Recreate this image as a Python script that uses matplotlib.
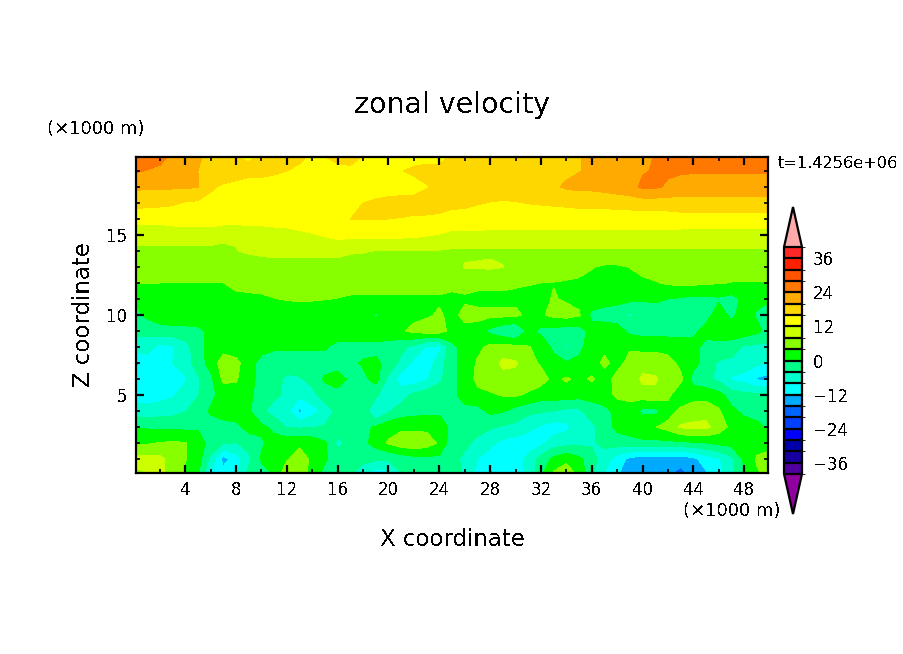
import numpy as np
import matplotlib
matplotlib.use("Agg")
import matplotlib.pyplot as plt
from matplotlib.colors import ListedColormap, BoundaryNorm
from matplotlib.ticker import MultipleLocator

plt.rcParams["text.antialiased"] = False
plt.rcParams["font.family"] = "DejaVu Sans"

# coordinates in km
x_km = list(range(0, 51))
z_km = [0.125, 1, 2, 3, 4, 5, 6, 7, 8, 9, 10, 11, 12, 13, 14, 15, 16, 17, 18, 19, 19.875]

# zonal velocity, one row per height (bottom row first), x = 0..24 then x = 25..50
u_z00 = [7.5, 7.9, 9, 6, 3.5, 0.5, -8, -10.5, -9, -3, -1.5, 0.5, 7, 7, 2, -1, -2, -3, -7, -10, -9, -4, -2.5, -2, -2,
         -2.5, -4.5, -9, -13, -10, -9.5, -7, -1, 4.5, 6, 3, -3, -8, -11.5, -14.5, -15.5, -15.5, -15.5, -17, -15, -12.5, -9.5, -5, -0.5, 3.5, 5.5]
u_z01 = [9, 9.5, 9, 6.5, 4.2, 2, -5, -13.5, -10, -5, 0.5, 2, 3.5, 6.5, 3, 0.5, -2, -2, -2.5, -3, -3.5, -2.5, -1.5, -1, -1,
         -2.5, -5, -8, -10, -10, -9.5, -7, -2.5, 1, 3, 1, -2.5, -6, -10, -13, -14.5, -14.5, -14.5, -14.5, -13, -10, -8.5, -5, 1, 4.5, 5]
u_z02 = [3.5, 3.5, 4.2, 4.5, 4.2, 2, -1.5, -3.5, -4.2, -2.5, -0.5, 1.5, 2.5, 3, 2.5, 0.5, -5, -3, -1, 1.5, 4.5, 6.5, 7, 6, 3.5,
         -2.5, -3, -5, -7, -9, -10, -10, -9, -6, -5.5, -5, -4.5, -3, -2, -1.5, -1, -1, -1, -0.8, -0.5, 0, 1, 1.5, 2, 2.5, 3]
u_z03 = [-0.3, -0.5, -0.6, -0.8, -1, -0.5, -1.5, -1.5, -1, 1.5, 0.8, -1, -4.2, -4.5, -4.2, -3.5, -2, -1.5, -1, 0.5, 2.5, 3, 3, 3, 3,
         -1.5, -2, -2.5, -3.5, -4.5, -5, -7, -8.5, -10, -9, -6, -5, -2, 1, 2, 3, 3.8, 5.5, 8.5, 9, 9, 6, 3, 2, 1, -1]
u_z04 = [-6, -6.5, -6, -5.5, -4.2, -2, 0.5, 2, 2, 0.5, -3, -6, -7, -13, -9.5, -7, -2.5, -1.5, -1, -8.5, -4.5, -2, -1.5, -1, -1,
         -1, -1, -1.5, 1, 0.5, -1.5, -3, -3.5, -4, -5, -4.8, -2, -1, 1, 2, -1, -1, 2, 5, 6, 6.5, 4.5, 1, -1, -1.5, -1.5]
u_z05 = [-10, -10, -9.5, -8.5, -6, -4.2, -1, 1.5, 2, 0.5, -1, -3, -5, -7, -5.5, -1.5, -1.5, -1.5, -1.5, -3, -8.5, -6, -3, -2, -1.5,
         -1, 1.5, 3, 3.5, 4.3, 4.5, 3.5, 2, 2, 2, 1.5, 1.5, 2, 5, 5.5, 6, 7, 5, 1, 2.5, 2.5, 1.5, -2, -3, -3, -3]
u_z06 = [-11, -10.5, -10, -9.5, -8.5, -4.5, -1, 5, 4.5, 1, -1, -2, -5, -4.5, -2.5, 0.5, 2, -1, -1, 1.5, -5, -10, -10.5, -8.5, -5,
         -1, 1.5, 5, 6, 6.5, 6.5, 6, 5.5, 3, 4.5, 3, 4.5, 2, 5.5, 5, 9, 8.5, 6, 5, -1.5, -3, -5, -8.5, -9.5, -12.5, -13.5]
u_z07 = [-13, -10.5, -9.5, -8, -6, -2, 1.5, 6, 5, 2, -1.5, -1.5, -1.5, -1.5, -1.5, -1.5, -2, -1, 0.5, 1, -1.5, -5, -9, -10, -6,
         -1, 1.5, 4.5, 5.5, 9, 8.5, 5.5, 3.5, 1.5, 0.5, 1, 2, 5, 2.5, 5.5, 6, 6, 5.5, 3, 1.5, -2, -4.5, -5, -6, -7, -8.5]
u_z08 = [-6, -6, -9.5, -8.5, -5.5, -2, 2, 2.5, 2, 1.5, 1.5, 0.5, 0.5, 0.5, 0.5, 0.5, -1.5, -1.5, -1.5, -1.5, -2, -3, -5, -8.5, -9,
         -1, 1.5, 3, 5, 5.5, 5, 4.2, 3, -1, -4.5, -1, 2, 3, 3, 3.5, 3, 3, 2.5, 3, 1.5, -1.5, -1.5, -2, -4.5, -5, -5]
u_z09 = [-3, -3, -1.5, -1.5, -1.5, -1, 1, 2, 2.5, 2.5, 2.5, 1.5, 1.5, 1.5, 1.5, 1.5, 3, 3, 3, 3, 3, 3.5, 5, 6, 6,
         2.5, 3, 2.5, -1, -3, -4.5, 1, -1, -1.5, -2, -2, 1.5, 2.5, 2, -1, -1.5, -1.5, -1.5, -2, -1, 1.5, 2.5, 2.5, 2.5, 1, -1.5]
u_z10 = [-1.5, 1, 2, 3, 3, 3, 2, 2, 2, 2, 2, 2, 2, 2, 2, 2, 2, 2, 2, -0.5, 2, 3, 3, 3.5, 4.5,
         3, 5, 5, 5, 5, 5, 3, 3.5, 5, 5.5, 4.5, -1, -2, -2.5, -4.5, -3, -1.5, -1.5, -1.5, -1.5, -1.5, 2, -1, 2, -0.5, -1.5]
u_z11 = [0.5, 2, 3, 3, 3, 3, 3, 3, 3, 3, 3.3, 3.9, 4.2, 4.4, 4.3, 4.1, 3.9, 3.5, 3.5, 3.5, 3.5, 3.5, 3.5, 3.5, 3.5,
         3, 3.5, 3, 3, 3, 3, 3, 3, 4.3, 3.5, 3, 2.5, 2, 1.5, 1, 0.5, 0.5, 0, -0.5, -1, -1, -0.5, -1.5, 1, 1, 0.5]
u_z12 = [4.2, 4.1, 4, 4, 3.9, 3.9, 3.9, 4, 5, 5.5, 5.5, 5.5, 5.5, 5.5, 5.5, 5.5, 5.5, 5.5, 5.5, 5.5, 5.5, 5.5, 5.5, 5.5, 5.5,
         5.2, 5.2, 5, 5, 5, 4.5, 4.2, 4, 3.9, 3.7, 3.5, 3, 3, 2.8, 3, 3, 3.8, 4.5, 4.8, 4.8, 4.5, 4.2, 3.9, 3.9, 3.9, 3.9]
u_z13 = [6, 6, 6, 6, 6, 6, 6, 6, 6, 6, 6, 6, 6, 6, 6, 6, 6, 6, 6, 6, 6, 6, 6, 6, 6,
         6.5, 8.2, 8.3, 8.5, 8.1, 6, 6, 6, 6, 5.5, 5, 4.2, 3.5, 3.5, 4.1, 5.5, 5.5, 5.5, 5, 4.6, 4.3, 4.7, 5.5, 5.5, 5.5, 5.5]
u_z14 = [7, 7, 7, 7, 7, 7, 7, 7.5, 7.9, 8.5, 9, 9.5, 9.5, 9.5, 9.5, 9.5, 9.5, 8.5, 8.3, 7.9, 7.8, 7.8, 7.8, 7.8, 7.8,
         7.5, 7.5, 7.5, 7.5, 7.5, 7.5, 7.5, 7.5, 7.5, 7.5, 7.5, 7.5, 7.5, 7.5, 7.5, 7.5, 7.5, 7.5, 7.5, 7.5, 7.5, 7.5, 7.5, 7.5, 7.5, 7.5]
u_z15 = [10, 10, 10, 10, 10, 10, 10, 8.5, 8.3, 8.3, 8.5, 9.5, 10, 11, 11.7, 12.3, 13, 13, 13, 13, 13, 13, 12.8, 12.3, 11.8,
         11, 11, 11, 11, 11, 11, 11, 11, 11, 11, 11, 11, 11, 11, 11, 11, 11, 11, 10.5, 10.5, 10.5, 10.5, 10.5, 10.5, 10.5, 10.5]
u_z16 = [13, 13, 13, 13.5, 14, 14, 14, 14, 14, 14.5, 14.5, 14.5, 14.5, 14.5, 14.5, 15, 15.9, 16, 16.1, 16.1, 16, 15.9, 15.7, 15.5, 15.2,
         14.5, 14.5, 14.5, 14, 14, 14, 14, 14, 14, 14, 14, 14, 14, 14, 14, 14, 14, 14, 14.5, 14.5, 14.5, 14.5, 14.5, 14.5, 14.5, 14.5]
u_z17 = [17.5, 17.3, 17, 16.5, 15.7, 15.3, 15, 14.5, 14.5, 14.5, 14.5, 14.5, 14.5, 14.5, 14.5, 14.5, 14.5, 15.5, 16, 16.5, 17, 17, 17, 17.5, 17.5,
         17, 16.8, 16.2, 15.9, 15.7, 15.8, 16.1, 16.3, 16.5, 16.7, 17, 17, 17, 17.5, 17.5, 18, 18, 18, 18, 18, 18, 18, 18, 18, 18, 18]
u_z18 = [20.6, 20.6, 20.5, 20.5, 20.4, 20.2, 16.5, 15.5, 15, 14.5, 14.5, 14.5, 14.5, 14.5, 14.5, 14.5, 14.5, 14.5, 14.5, 14.5, 14.5, 14.8, 15, 15.8, 16.5,
         17, 17, 17.2, 17.4, 17.6, 17.8, 18, 18.5, 19.5, 20.5, 21, 21, 21.5, 22, 23, 24.5, 24.5, 23.5, 23, 23, 23, 23, 23, 23, 23, 23]
u_z19 = [24.5, 23.8, 23, 22, 21, 20, 19, 18, 17.5, 17, 17, 16.5, 16, 15.5, 15, 15, 15, 15, 15, 15, 15.2, 15.9, 16.5, 17, 17,
         17, 17, 17.5, 17.5, 18, 18, 18.5, 18.5, 19, 19.3, 19.9, 20.5, 21, 22, 23, 23.8, 24.2, 24.5, 24.3, 24.2, 24.2, 24.2, 24.2, 24.2, 24.2, 24.2]
u_z20 = [26, 26, 25.5, 23, 22, 20.5, 19, 17, 16, 15.5, 16.5, 17, 17, 16.5, 15.5, 15.9, 17, 17.5, 15.8, 15.5, 15, 15, 15, 15, 15,
         16.5, 17, 17.5, 18, 18, 18.5, 18.5, 19, 19, 19.5, 19.9, 20.5, 21, 21.5, 22, 23, 24.2, 26, 26, 26, 26, 26, 26, 26, 26, 26]

u_rows = [u_z00, u_z01, u_z02, u_z03, u_z04, u_z05, u_z06, u_z07, u_z08, u_z09, u_z10,
          u_z11, u_z12, u_z13, u_z14, u_z15, u_z16, u_z17, u_z18, u_z19, u_z20]

levels = list(range(-40, 41, 4))
band_colors = ["#5000a0", "#1800a0", "#0000aa", "#0000ff", "#0040ff", "#0064ff", "#00aaff",
               "#00ffff", "#00ffcc", "#00ff88", "#00ff00", "#88ff00", "#ccff00", "#ffff00",
               "#ffd700", "#ffaa00", "#ff7800", "#ff5500", "#ff2000", "#ff2828"]
under_color = "#9000a0"
over_color = "#ffaaaa"
cbar_ticks = [-36, -24, -12, 0, 12, 24, 36]

W, H = 904, 654


def px_axes(left, top, right, bottom):
    return [left / W, 1 - bottom / H, (right - left) / W, (bottom - top) / H]


cmap = ListedColormap(band_colors)
cmap.set_under(under_color)
cmap.set_over(over_color)
norm = BoundaryNorm(levels, cmap.N)

fig = plt.figure(figsize=(W / 100, H / 100), dpi=100)
ax = fig.add_axes(px_axes(136, 157, 768, 473))

cf = ax.contourf(x_km, z_km, np.array(u_rows), levels=levels, cmap=cmap, norm=norm,
                 extend="both", antialiased=False)
ax.set_xlim(0.125, 49.875)
ax.set_ylim(0.125, 19.875)

ax.xaxis.set_major_locator(MultipleLocator(4))
ax.xaxis.set_minor_locator(MultipleLocator(2))
ax.yaxis.set_major_locator(MultipleLocator(5))
ax.yaxis.set_minor_locator(MultipleLocator(1))
ax.tick_params(which="major", direction="in", top=True, right=True, length=6, width=1.6, labelsize=12, pad=6)
ax.tick_params(which="minor", direction="in", top=True, right=True, length=3, width=1.2)
for sp in ax.spines.values():
    sp.set_linewidth(1.6)

fig.text(452 / W, 1 - 105 / H, "zonal velocity", fontsize=20.5, ha="center", va="center")
fig.text(452 / W, 1 - 539 / H, "X coordinate", fontsize=16.5, ha="center", va="center")
fig.text(83 / W, 1 - 315 / H, "Z coordinate", fontsize=16.5, rotation=90, ha="center", va="center")
fig.text(95.5 / W, 1 - 129 / H, "(×1000 m)", fontsize=13, ha="center", va="center")
fig.text(732 / W, 1 - 511 / H, "(×1000 m)", fontsize=13, ha="center", va="center")
fig.text(778 / W, 1 - 163 / H, "t=1.4256e+06", fontsize=11.6, ha="left", va="center")

cax = fig.add_axes(px_axes(784, 207, 802, 514))
cbar = fig.colorbar(cf, cax=cax, extend="both", extendfrac=40 / 226, drawedges=True, spacing="uniform")
cbar.set_ticks(cbar_ticks)
cbar.ax.tick_params(length=0, labelsize=12, pad=8)
cbar.outline.set_linewidth(1.6)
cbar.dividers.set_linewidth(1.6)
cbar.dividers.set_color("black")

fig.savefig("out.png", dpi=100)
